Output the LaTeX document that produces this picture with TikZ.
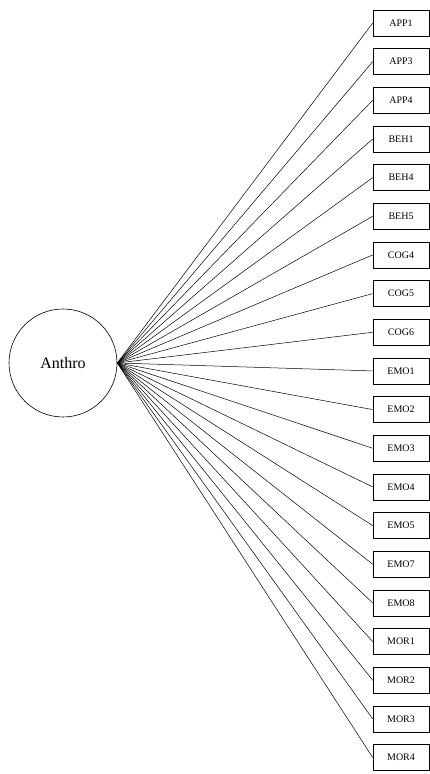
\documentclass[tikz,border=0pt]{standalone}
\usepackage{fontspec}
\setmainfont{Liberation Serif}
\begin{document}
\begin{tikzpicture}[x=1pt,y=1pt,
  latent/.style={draw,circle,line width=0.6pt,minimum size=108pt,inner sep=0pt,font=\fontsize{16}{18}\selectfont},
  indic/.style={draw,rectangle,line width=0.6pt,minimum width=56pt,minimum height=26pt,inner sep=0pt,font=\fontsize{10}{12}\selectfont},
  path/.style={line width=0.5pt}]
\useasboundingbox (0,0) rectangle (430,774);
\node[latent] (L) at (63,411) {Anthro};
\foreach \lab [count=\i from 0] in {APP1,APP3,APP4,BEH1,BEH4,BEH5,COG4,COG5,COG6,EMO1,EMO2,EMO3,EMO4,EMO5,EMO7,EMO8,MOR1,MOR2,MOR3,MOR4}{
  \node[indic] (n\i) at (401,{774-23-\i*38.66}) {\lab};
  \draw[path] (L.east) -- (n\i.west);
}
\end{tikzpicture}
\end{document}
